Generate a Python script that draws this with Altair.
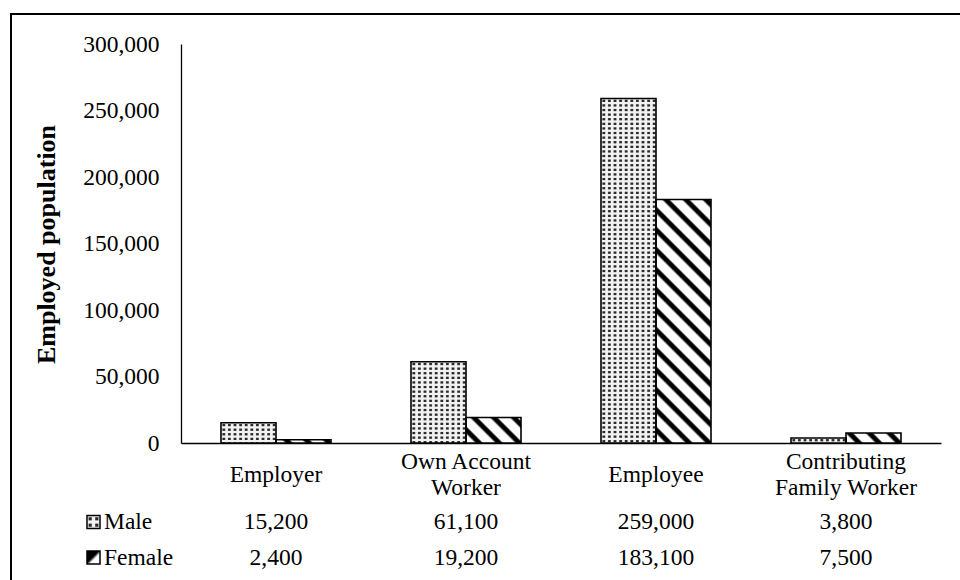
import altair as alt
import pandas as pd

# ---- data -------------------------------------------------------------
categories = ["Employer", "Own Account Worker", "Employee", "Contributing Family Worker"]
category_labels = ["Employer", "Own Account\nWorker", "Employee", "Contributing\nFamily Worker"]
sexes = ["Male", "Female"]
male = [15200, 61100, 259000, 3800]
female = [2400, 19200, 183100, 7500]
y_ticks = [0, 50000, 100000, 150000, 200000, 250000, 300000]

# ---- layout / style -----------------------------------------------------
PLOT_W, PLOT_H = 760, 399
Y_MAX = 300000
STEP = PLOT_W / len(categories)
BAR_W = 55
FONT = "Liberation Serif"
FS = 23.5

rows = []
for cat, lab, m, f in zip(categories, category_labels, male, female):
    rows.append({"category": cat, "label": lab, "sex": "Male", "value": m})
    rows.append({"category": cat, "label": lab, "sex": "Female", "value": f})
df = pd.DataFrame(rows)

x_scale = alt.Scale(domain=categories, paddingInner=(STEP - 2 * BAR_W) / STEP,
                    paddingOuter=(STEP - 2 * BAR_W) / STEP / 2)
off_scale = alt.Scale(domain=sexes, paddingInner=0, paddingOuter=0)
y_scale = alt.Scale(domain=[0, Y_MAX], nice=False)


def px_height(v):
    return v / Y_MAX * PLOT_H


def cycle_stops(period_frac, pattern):
    """Repeat a one-period colour pattern along a gradient."""
    stops = []
    i = 0
    while i * period_frac < 1:
        for frac, col in pattern:
            stops.append(alt.GradientStop(offset=min(1.0, (i + frac) * period_frac), color=col))
        i += 1
    return stops


BG = "#f2f2f2"
BG_CLEAR = "rgba(242,242,242,0)"
DOT = "#2a2a2a"
col_pattern = [(0, BG), (0.15, BG), (0.35, DOT), (0.65, DOT), (0.85, BG), (1.0, BG)]
row_pattern = [(0, BG), (0.15, BG), (0.35, BG_CLEAR), (0.65, BG_CLEAR), (0.85, BG), (1.0, BG)]
stripe_pattern = [(0, "white"), (0.42, "white"), (0.56, "black"), (0.78, "black"),
                  (0.9, "white"), (1.0, "white")]


def dot_columns(w, period=5.6):
    return alt.LinearGradient(gradient="linear", x1=0, y1=0, x2=1, y2=0,
                              stops=cycle_stops(period / w, col_pattern))


def dot_rows(h, period=4.6):
    return alt.LinearGradient(gradient="linear", x1=0, y1=0, x2=0, y2=1,
                              stops=cycle_stops(min(1.0, period / max(h, 0.1)), row_pattern))


def stripes(w, h, spacing=20.0):
    # diagonal "\" hatching; gradient vector expressed in bounding-box units
    k = (w + h) / (w * w + h * h)
    return alt.LinearGradient(gradient="linear", x1=0, y1=1, x2=k * w, y2=1 - k * h,
                              stops=cycle_stops(min(1.0, spacing / (w + h)), stripe_pattern))


# one shared axis definition per channel, repeated in every layer that uses the scale
y_axis = alt.Axis(values=y_ticks, format=",d", labelFont=FONT, labelFontSize=FS,
                  labelColor="black", labelPadding=22, ticks=False, grid=False,
                  domainColor="black", domainWidth=1.3,
                  title="Employed population", titleFont=FONT, titleFontSize=26,
                  titleFontWeight="bold", titleColor="black", titleAngle=-90,
                  titleX=-135, titleY=200, titleAlign="center", titleBaseline="middle")
x_axis = alt.Axis(labels=False, ticks=False, grid=False, domainColor="black",
                  domainWidth=1.6, title="")

X_ENC = alt.X("category:N", scale=x_scale, axis=x_axis)
XO_ENC = alt.XOffset("sex:N", scale=off_scale)
Y_ENC = alt.Y("value:Q", scale=y_scale, axis=y_axis)
BAR_ENC = dict(x=X_ENC, xOffset=XO_ENC, y=Y_ENC)

base = alt.Chart(df)
layers = []

# male bars: dotted fill from a column gradient ...
layers.append(
    base.transform_filter(alt.datum.sex == "Male")
    .mark_bar(fill=dot_columns(BAR_W), strokeWidth=0)
    .encode(**BAR_ENC)
)
# ... and a per-bar row mask that turns the columns into dots
for cat, v in zip(categories, male):
    layers.append(
        base.transform_filter((alt.datum.sex == "Male") & (alt.datum.category == cat))
        .mark_bar(fill=dot_rows(px_height(v)), strokeWidth=0)
        .encode(**BAR_ENC)
    )

# female bars: diagonal hatching
for cat, v in zip(categories, female):
    layers.append(
        base.transform_filter((alt.datum.sex == "Female") & (alt.datum.category == cat))
        .mark_bar(fill=stripes(BAR_W, px_height(v)), strokeWidth=0)
        .encode(**BAR_ENC)
    )

# bar outlines
layers.append(base.mark_bar(fillOpacity=0, stroke="black", strokeWidth=1.6).encode(**BAR_ENC))

# outer frame of the chart area
frame = alt.Chart(pd.DataFrame({"k": [0]})).mark_rect(
    fillOpacity=0, stroke="black", strokeWidth=2
).encode(x=alt.value(-170), x2=alt.value(790), y=alt.value(-30), y2=alt.value(560))
layers.append(frame)

# category labels under the axis (one- and two-line labels centred on the same row)
cat_df = pd.DataFrame({"category": categories, "label": category_labels})
for two_lines, ypos in [(False, 431), (True, 418)]:
    test = "indexof(datum.label, '\\n') >= 0" if two_lines else "indexof(datum.label, '\\n') < 0"
    layers.append(
        alt.Chart(cat_df).transform_filter(test)
        .mark_text(font=FONT, fontSize=FS, lineBreak="\n", lineHeight=25.5,
                   baseline="middle", color="black")
        .encode(x=X_ENC, y=alt.value(ypos), text="label:N")
    )

# data table rows
row_y = {"Male": 478, "Female": 513.5}
for sex in sexes:
    layers.append(
        base.transform_filter(alt.datum.sex == sex)
        .mark_text(font=FONT, fontSize=FS, baseline="middle", color="black")
        .encode(x=X_ENC, y=alt.value(row_y[sex]), text=alt.Text("value:Q", format=",d"))
    )
    layers.append(
        alt.Chart(pd.DataFrame({"sex": [sex]}))
        .mark_text(font=FONT, fontSize=FS, baseline="middle", align="left", color="black")
        .encode(x=alt.value(-77), y=alt.value(row_y[sex]), text="sex:N")
    )

# legend keys in the table
key_df = pd.DataFrame({"k": [0]})
ym = row_y["Male"]
layers.append(alt.Chart(key_df).mark_rect(fill=dot_columns(13, 6.5), strokeWidth=0)
              .encode(x=alt.value(-94), x2=alt.value(-81), y=alt.value(ym - 6.5), y2=alt.value(ym + 6.5)))
layers.append(alt.Chart(key_df).mark_rect(fill=dot_rows(13, 6.5), stroke="black", strokeWidth=1.5)
              .encode(x=alt.value(-94), x2=alt.value(-81), y=alt.value(ym - 6.5), y2=alt.value(ym + 6.5)))
yf = row_y["Female"]
female_key = alt.LinearGradient(gradient="linear", x1=0, y1=0, x2=1, y2=1,
                                stops=[alt.GradientStop(offset=0, color="black"),
                                       alt.GradientStop(offset=0.45, color="black"),
                                       alt.GradientStop(offset=0.6, color="white"),
                                       alt.GradientStop(offset=1, color="white")])
layers.append(alt.Chart(key_df).mark_rect(fill=female_key, stroke="black", strokeWidth=1.5)
              .encode(x=alt.value(-94), x2=alt.value(-81), y=alt.value(yf - 6.5), y2=alt.value(yf + 6.5)))

chart = alt.layer(*layers).properties(
    width=PLOT_W, height=PLOT_H,
    autosize=alt.AutoSizeParams(type="none"),
    padding={"left": 181, "top": 44, "right": 19, "bottom": 137},
    background="white",
).configure_view(stroke=None)

chart.save("out.html", embed_options={"renderer": "svg", "actions": False})
